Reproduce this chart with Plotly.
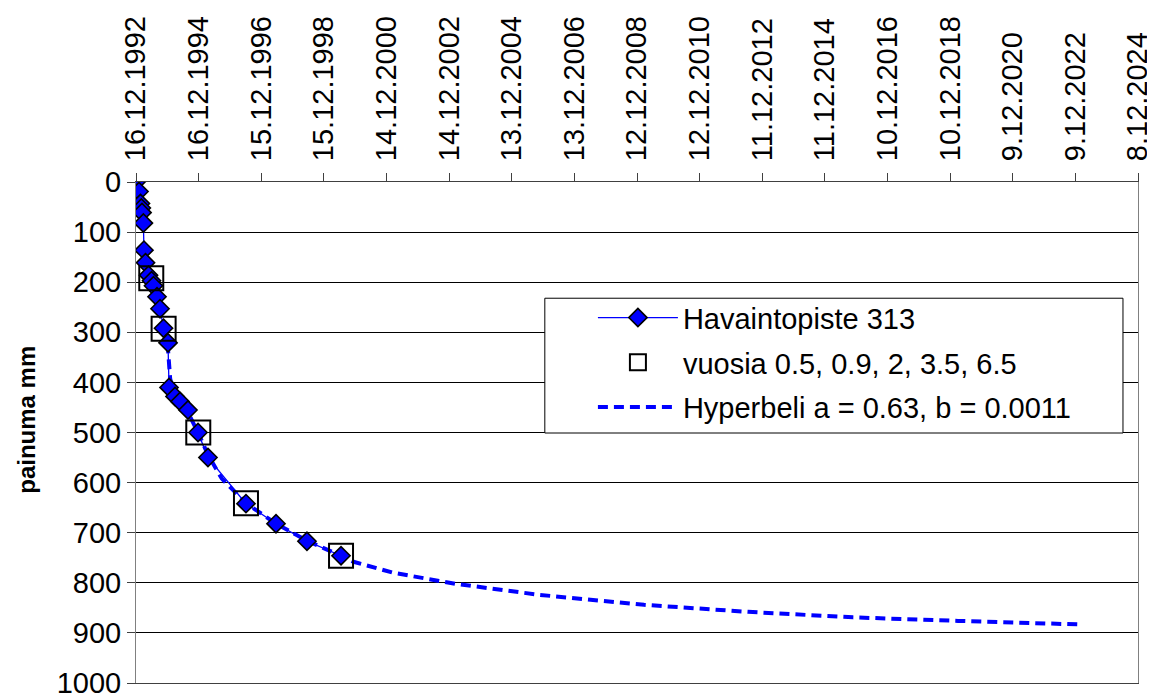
import pandas as pd
import plotly.graph_objects as go

# ---------------- data ----------------
start_date = "16.12.1992"

# observation point 313: days since start, settlement (mm)
obs_days = [0, 35, 52, 62, 70, 86, 93, 111, 146, 181, 204, 245, 280, 321,
             373, 385, 455, 513, 606, 723, 839, 1282, 1632, 1993, 2390]
obs_mm = [0, 19, 43, 52, 61, 82, 136, 161, 186, 197, 207, 229, 253, 292,
          321, 410, 428, 438, 455, 500, 550, 642, 682, 717, 746]

# boxes at 0.5, 0.9, 2, 3.5, 6.5 years
box_days = [178, 322, 726, 1282, 2390]
box_mm = [192, 293, 500, 641, 746]

# fitted hyperbola, points
hyp_days = [368, 384, 398, 430, 455, 513, 606, 723, 840, 1000, 1282, 1632,
            1993, 2390, 2535, 3000, 3724, 4698, 5922, 7134, 8358, 9582, 10981]
hyp_mm = [322, 360, 392, 416, 428, 440, 460, 500, 545, 592, 641, 682,
          716, 746, 758, 780, 802, 824, 844, 858, 869, 876, 883]

tick_labels = ["16.12.1992", "16.12.1994", "15.12.1996", "15.12.1998",
               "14.12.2000", "14.12.2002", "13.12.2004", "13.12.2006",
               "12.12.2008", "12.12.2010", "11.12.2012", "11.12.2014",
               "10.12.2016", "10.12.2018", "9.12.2020", "9.12.2022",
               "8.12.2024"]
y_ticks = [0, 100, 200, 300, 400, 500, 600, 700, 800, 900, 1000]

names = ["Havaintopiste 313", "vuosia 0.5, 0.9, 2, 3.5, 6.5",
         "Hyperbeli a = 0.63, b = 0.0011"]
y_title = "painuma mm"

# ---------------- build ----------------
base = pd.to_datetime(start_date, format="%d.%m.%Y")
def to_dates(days):
    return [base + pd.Timedelta(days=d) for d in days]

tick_vals = [pd.to_datetime(t, format="%d.%m.%Y") for t in tick_labels]

FONT = "Liberation Sans, Arial, sans-serif"
BLUE = "#0000FF"

fig = go.Figure()

fig.add_trace(go.Scatter(
    x=to_dates(hyp_days), y=hyp_mm, mode="lines", name=names[2],
    line=dict(color=BLUE, width=4, dash="10px,6px"),
    legendrank=3, legendgroup="c"))

fig.add_trace(go.Scatter(
    x=to_dates(obs_days), y=obs_mm, mode="lines+markers", name=names[0],
    line=dict(color=BLUE, width=1.3),
    marker=dict(symbol="diamond", size=14, color=BLUE,
                line=dict(color="black", width=1.6)),
    legendrank=1, legendgroup="a"))

fig.add_trace(go.Scatter(
    x=to_dates(box_days), y=box_mm, mode="markers", name=names[1],
    marker=dict(symbol="square", size=24, color="rgba(0,0,0,0)",
                line=dict(color="black", width=2)),
    legendrank=2, legendgroup="b"))

# legend frame (paper coords)
fig.add_shape(type="rect", xref="paper", yref="paper",
              x0=0.408, x1=0.985, y0=0.499, y1=0.768,
              fillcolor="white", line=dict(color="black", width=1),
              layer="above")

# y-axis title
fig.add_annotation(text="<b>" + y_title + "</b>", xref="paper", yref="paper",
                   x=-0.109, y=0.525, xanchor="center", yanchor="middle",
                   textangle=-90, showarrow=False,
                   font=dict(family=FONT, size=24, color="black"))

# page body has an 8px margin: figure is sized/offset to compensate
fig.update_layout(
    width=1147, height=685,
    margin=dict(l=128, r=17, t=174, b=10, autoexpand=False),
    paper_bgcolor="white", plot_bgcolor="white",
    font=dict(family=FONT, size=29, color="black"),
    showlegend=True,
    legend=dict(
        x=0.456, y=0.780, xanchor="left", yanchor="top",
        bgcolor="rgba(0,0,0,0)", borderwidth=0,
        font=dict(family=FONT, size=29, color="black"),
        itemwidth=80, tracegroupgap=4, traceorder="grouped",
    ),
    xaxis=dict(
        type="date", side="top", automargin=False,
        range=[tick_vals[0], tick_vals[-1]],
        tickmode="array", tickvals=tick_vals, ticktext=tick_labels,
        tickangle=-90, tickfont=dict(size=29),
        ticks="outside", ticklen=8, tickcolor="#404040",
        ticklabelstandoff=6, ticklabeloverflow="allow",
        showgrid=False, zeroline=False,
        showline=True, linecolor="#404040", linewidth=1, mirror=True,
    ),
    yaxis=dict(
        range=[1000, 0], automargin=False,
        tickmode="array", tickvals=y_ticks,
        tickfont=dict(size=29), ticklabeloverflow="allow",
        ticks="outside", ticklen=8, tickcolor="#404040",
        showgrid=True, gridcolor="black", gridwidth=1,
        zeroline=False,
        showline=True, linecolor="#808080", linewidth=1, mirror=True,
    ),
)

fig.write_html("out.html")
